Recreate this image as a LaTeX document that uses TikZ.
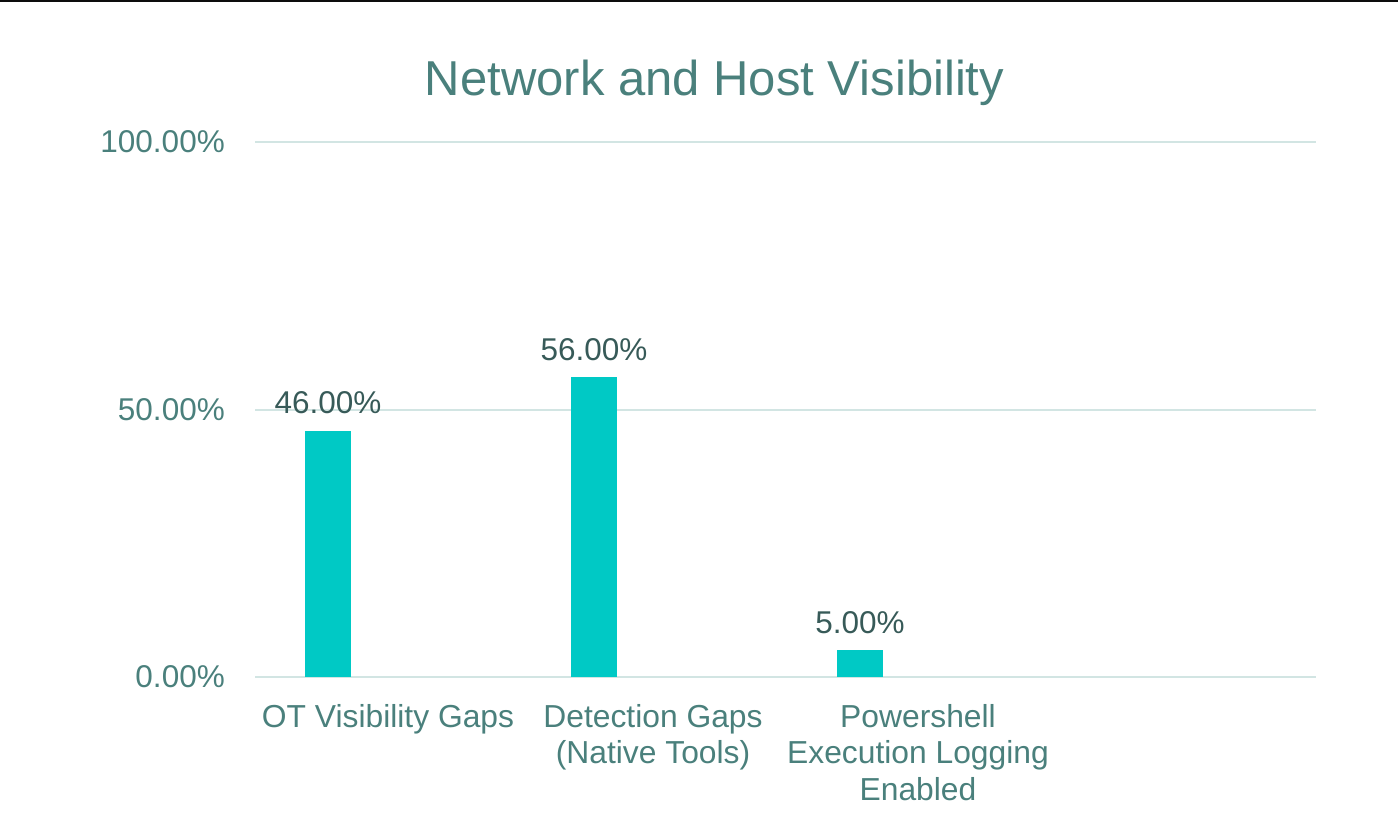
\documentclass[tikz,border=0pt]{standalone}
\usepackage{fontspec}
\setmainfont{Liberation Sans}
\usetikzlibrary{positioning}
\definecolor{axistext}{RGB}{74,128,124}
\definecolor{valuetext}{RGB}{55,90,88}
\definecolor{barfill}{RGB}{0,201,197}
\definecolor{gridcolor}{RGB}{210,229,227}
\tikzset{
  ticklabel/.style={inner sep=0pt,text=axistext,font=\fontsize{31.5}{36.5}\selectfont},
  catlabel/.style={inner sep=0pt,anchor=north,align=center,text=axistext,
    font=\fontsize{31.8}{36.5}\selectfont},
  valuelabel/.style={inner sep=0pt,text=valuetext,font=\fontsize{31.5}{36.5}\selectfont},
  titlelabel/.style={inner sep=0pt,text=axistext,font=\fontsize{49}{54}\selectfont}
}
\newcommand{\refpoint}[1]{
    % Reference Point (not visible)
    % \refpoint{name}
    node (#1) [inner sep=0pt,minimum size=0pt] {}
}
\newcommand{\gridlevel}[3]{
    % Horizontal Grid Line with Tick Label
    % \gridlevel{name}{y position}{text}
    % node endings: W: west, E: east, Label: tick label
    \draw[gridcolor,line width=2pt] (255,#2) \refpoint{#1W} -- (1316,#2) \refpoint{#1E};
    \node (#1Label) [ticklabel,left=29pt of #1W] {#3};
}
\newcommand{\valuebar}[4]{
    % Bar Standing on the Zero Line
    % \valuebar{name}{x center}{value in percent}{text}
    % node endings: N: top of bar, Value: value label
    \fill[barfill] (#2-23,677) rectangle (#2+23,677-5.35*#3);
    \path (#2,677-5.35*#3) \refpoint{#1N};
    \node (#1Value) [valuelabel,above=17pt of #1N,anchor=base] {#4};
}

\begin{document}
\begin{tikzpicture}[x=1pt,y=-1pt]
  \useasboundingbox (0,0) rectangle (1398,822);
  \fill[black!95] (0,0) rectangle (1398,2);
  \node (title) [titlelabel,anchor=base] at (714.5,95) {Network and Host Visibility};

  % grid and axis
  \gridlevel{gHundred}{142}{100.00\%}
  \gridlevel{gFifty}{410}{50.00\%}
  \gridlevel{gZero}{677}{0.00\%}

  % bars
  \valuebar{barOT}{328}{46}{46.00\%}
  \valuebar{barDetect}{594}{56}{56.00\%}
  \valuebar{barPower}{860}{5}{5.00\%}

  % categories
  \node (catOT) [catlabel] at (388,704) {OT Visibility Gaps};
  \node (catDetect) [catlabel] at (653,704) {Detection Gaps\\(Native Tools)};
  \node (catPower) [catlabel] at (918,704) {Powershell\\Execution Logging\\Enabled};
\end{tikzpicture}
\end{document}
